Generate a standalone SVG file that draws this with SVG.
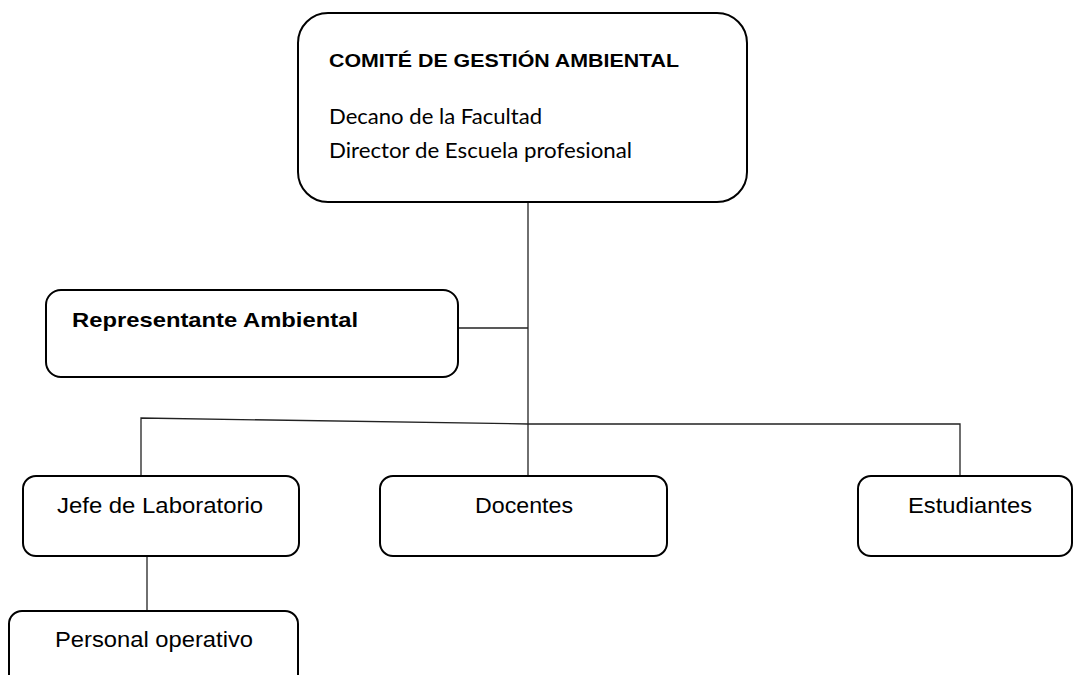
<svg xmlns="http://www.w3.org/2000/svg" width="1074" height="675" viewBox="0 0 1074 675">
<style>
.box{fill:#fff;stroke:#000;stroke-width:2}
.ln{fill:none;stroke:#222;stroke-width:1.3}
.b{font-family:"Liberation Sans",Arial,sans-serif;font-weight:bold;fill:#000}
.r{font-family:"Liberation Sans",Arial,sans-serif;fill:#000}
.c{font-family:Lato,"Open Sans",sans-serif;fill:#000}
</style>
<rect width="1074" height="675" fill="#fff"/>
<g id="connectors">
<line class="ln" x1="528" y1="202" x2="528" y2="477"/>
<line class="ln" x1="458" y1="328" x2="528" y2="328"/>
<polyline class="ln" points="141,477 141,418 528,424 960,424 960,477"/>
<line class="ln" x1="147" y1="556" x2="147" y2="611"/>
</g>
<g id="comite">
<rect class="box" x="298" y="13" width="449" height="189" rx="30"/>
<text class="b" x="329" y="67" font-size="18" textLength="350" lengthAdjust="spacingAndGlyphs">COMITÉ DE GESTIÓN AMBIENTAL</text>
<text class="c" x="329" y="124" font-size="20.5" textLength="213" lengthAdjust="spacingAndGlyphs">Decano de la Facultad</text>
<text class="c" x="329" y="158" font-size="20.5" textLength="303" lengthAdjust="spacingAndGlyphs">Director de Escuela profesional</text>
</g>
<g id="representante">
<rect class="box" x="46" y="290" width="412" height="87" rx="15"/>
<text class="b" x="72" y="327" font-size="20.5" textLength="286" lengthAdjust="spacingAndGlyphs">Representante Ambiental</text>
</g>
<g id="jefe">
<rect class="box" x="23" y="476" width="276" height="80" rx="13"/>
<text class="r" x="57" y="513" font-size="22" textLength="206" lengthAdjust="spacingAndGlyphs">Jefe de Laboratorio</text>
</g>
<g id="docentes">
<rect class="box" x="380" y="476" width="287" height="80" rx="13"/>
<text class="r" x="475" y="513" font-size="22" textLength="98" lengthAdjust="spacingAndGlyphs">Docentes</text>
</g>
<g id="estudiantes">
<rect class="box" x="858" y="476" width="214" height="80" rx="13"/>
<text class="r" x="908" y="513" font-size="22" textLength="124" lengthAdjust="spacingAndGlyphs">Estudiantes</text>
</g>
<g id="personal">
<rect class="box" x="9" y="611" width="289" height="80" rx="13"/>
<text class="r" x="55" y="647" font-size="22" textLength="198" lengthAdjust="spacingAndGlyphs">Personal operativo</text>
</g>
</svg>
